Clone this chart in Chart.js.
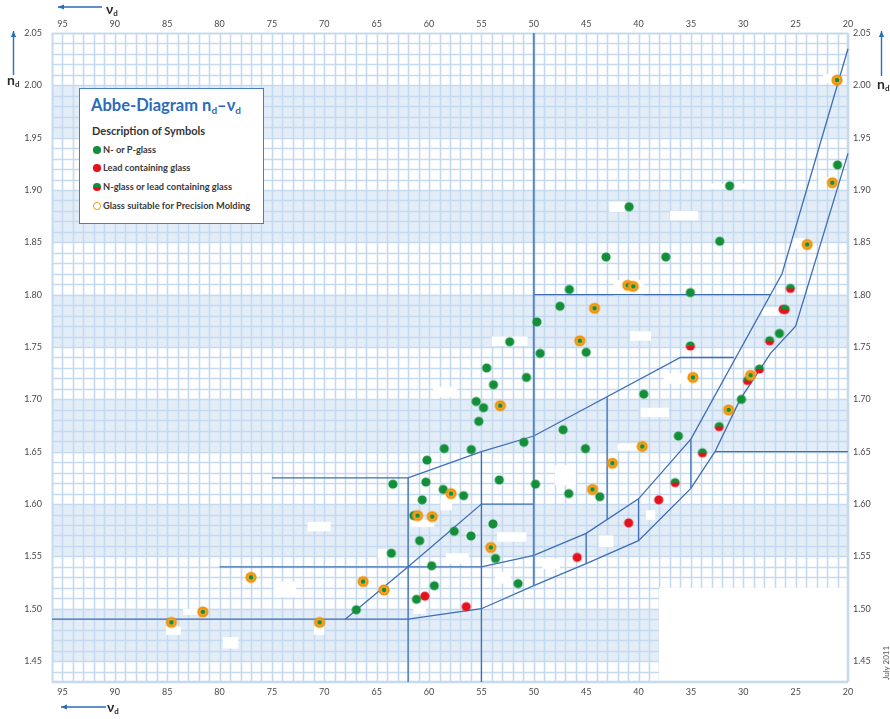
<!DOCTYPE html>
<html>
<head>
<meta charset="utf-8">
<title>Abbe-Diagram nd–νd</title>
<script src="https://cdn.jsdelivr.net/npm/chart.js@4.4.1/dist/chart.umd.min.js"></script>
<style>
  html, body { margin: 0; padding: 0; background: #fff; }
  #wrap { position: relative; width: 890px; height: 719px; font-family: Lato, "Open Sans", sans-serif; }
  #c { position: absolute; left: 0; top: 0; }
  .abs { position: absolute; white-space: nowrap; }
  .axt { font-weight: 700; color: #2a2a2a; font-size: 14px; line-height: 14px; }
  .axt sub { font-size: 8px; vertical-align: -2px; }
  #key { position: absolute; left: 79px; top: 88px; width: 185px; height: 136px; box-sizing: border-box;
         border: 1.5px solid #4a7cc2; background: #fff; }
  #key .ttl { left: 11px; top: 6px; font-size: 16.5px; line-height: 20px; font-weight: 700; color: #2c6cb8; }
  #key .ttl sub { font-size: 10px; vertical-align: -3px; }
  #key .sub { left: 12px; top: 35px; font-size: 11px; line-height: 14px; font-weight: 700; color: #333; }
  #key .item { left: 23px; font-size: 9.3px; line-height: 12px; font-weight: 700; color: #3a3a3a; }
  #key .mk { position: absolute; left: 13px; width: 7.5px; height: 7.5px; border-radius: 50%; box-sizing: border-box; }
  #stamp { position: absolute; left: 868px; top: 658px; width: 36px; font-size: 8px; line-height: 10px; color: #555;
           transform: rotate(-90deg); transform-origin: center; text-align: center; }
</style>
</head>
<body>
<div id="wrap">
  <canvas id="c" width="890" height="719"></canvas>

  <div class="abs axt" style="left:106px; top:2px;">ν<sub>d</sub></div>
  <div class="abs axt" style="left:107px; top:700px;">ν<sub>d</sub></div>
  <div class="abs axt" style="left:7px; top:73px;">n<sub>d</sub></div>
  <div class="abs axt" style="left:877px; top:77px;">n<sub>d</sub></div>

  <div id="key">
    <div class="abs ttl">Abbe-Diagram n<sub>d</sub>–ν<sub>d</sub></div>
    <div class="abs sub">Description of Symbols</div>
    <span class="mk" style="top:57px; background:#138f3a;"></span>
    <div class="abs item" style="top:55px;">N- or P-glass</div>
    <span class="mk" style="top:75px; background:#e5121c;"></span>
    <div class="abs item" style="top:73px;">Lead containing glass</div>
    <span class="mk" style="top:94px; background:linear-gradient(#138f3a 0 50%, #e5121c 50% 100%);"></span>
    <div class="abs item" style="top:92px;">N-glass or lead containing glass</div>
    <span class="mk" style="top:113px; border:1.7px solid #f39200; background:#fff;"></span>
    <div class="abs item" style="top:111px;">Glass suitable for Precision Molding</div>
  </div>

  <div id="stamp">July 2011</div>
</div>

<script>
// ---- axis ticks -------------------------------------------------------
const nuTicks = [95, 90, 85, 80, 75, 70, 65, 60, 55, 50, 45, 40, 35, 30, 25, 20];
const ndTicks = [2.05, 2.00, 1.95, 1.90, 1.85, 1.80, 1.75, 1.70, 1.65, 1.60, 1.55, 1.50, 1.45];

// ---- glass types [νd, nd] ------------------------------------------------
const nOrPGlass = [
  [21.0, 1.924], [31.3, 1.904], [32.25, 1.851], [40.9, 1.884], [43.1, 1.836], [37.4, 1.836],
  [35.05, 1.802], [46.6, 1.805], [47.5, 1.789], [49.7, 1.774], [52.3, 1.755], [49.4, 1.744],
  [45.0, 1.745], [54.5, 1.730], [50.7, 1.721], [53.85, 1.714], [55.5, 1.698], [54.8, 1.692],
  [55.25, 1.679], [39.5, 1.705], [47.2, 1.671], [50.95, 1.659], [58.55, 1.653], [55.97, 1.652],
  [45.07, 1.653], [60.2, 1.642], [36.2, 1.665], [63.45, 1.619], [60.3, 1.621], [58.65, 1.614],
  [56.7, 1.608], [60.65, 1.604], [61.45, 1.589], [57.6, 1.574], [56.0, 1.5695], [60.9, 1.565],
  [63.6, 1.553], [59.75, 1.541], [59.5, 1.522], [61.2, 1.509], [66.95, 1.499], [53.3, 1.623],
  [49.84, 1.619], [46.66, 1.610], [43.7, 1.607], [53.9, 1.581], [53.65, 1.548], [51.5, 1.524],
  [26.55, 1.763], [30.18, 1.700]
];
const leadGlass = [
  [60.4, 1.512], [56.45, 1.502], [45.86, 1.549], [40.94, 1.582], [38.07, 1.604], [26.2, 1.786]
];
const nOrLeadGlass = [
  [36.5, 1.6205], [33.9, 1.649], [32.3, 1.674], [35.05, 1.751], [29.6, 1.718], [28.46, 1.729],
  [27.48, 1.756], [26.0, 1.786], [25.5, 1.806]
];
const moldingGlass = [
  [21.05, 2.005], [21.5, 1.907], [23.9, 1.848], [41.03, 1.809], [40.5, 1.808], [44.2, 1.787],
  [45.6, 1.756], [53.2, 1.694], [34.8, 1.721], [29.3, 1.723], [31.4, 1.690], [39.65, 1.655],
  [42.5, 1.639], [44.4, 1.614], [54.1, 1.5585], [57.9, 1.610], [61.1, 1.589], [59.7, 1.588],
  [66.3, 1.526], [64.3, 1.518], [77.0, 1.530], [81.6, 1.497], [70.45, 1.487], [84.6, 1.487]
];

// ---- glass-family boundaries [νd, nd] ------------------------------------
const nu50Line   = [[50, 2.05], [50, 1.522]];
const nd180Line  = [[50, 1.80], [27.4, 1.80]];
const upperCurve = [[80, 1.54], [55, 1.54], [50, 1.551], [45, 1.572], [40, 1.605], [35, 1.662], [26.3, 1.82], [20, 2.035]];
const lowerCurve = [[96, 1.49], [62, 1.49], [55, 1.50], [50, 1.522], [45, 1.543], [40, 1.565], [35, 1.615],
                    [32.7, 1.65], [30.3, 1.70], [27.4, 1.744], [25, 1.77], [20, 1.935]];
const crownDiag  = [[68, 1.49], [62, 1.54], [55, 1.60], [50, 1.60]];
const flintLine  = [[75, 1.625], [62, 1.625], [55, 1.65], [50, 1.665], [36, 1.74], [30.9, 1.74]];
const nd165Line  = [[32.7, 1.65], [20, 1.65]];
const nu62Line   = [[62, 1.625], [62, 1.43]];
const nu55Line   = [[55, 1.65], [55, 1.43]];
const nu45Line   = [[45, 1.543], [45, 1.572]];
const nu43Line   = [[43, 1.585], [43, 1.702]];
const nu40Line   = [[40, 1.565], [40, 1.605]];
const nu35Line   = [[35, 1.615], [35, 1.662]];

// shaded nd bands and blank plates [ν from, ν to, nd top, nd bottom]
const shadedBands = [[1.45, 1.50], [1.55, 1.60], [1.65, 1.70], [1.75, 1.80], [1.85, 1.90], [1.95, 2.00]];
const blankCorner = [38.05, 20, 1.52, 1.43];
const blankPlates = [
  [37.0, 34.3, 1.880, 1.871], [42.8, 41.3, 1.889, 1.879], [33.2, 29.2, 1.906, 1.901], [25.3, 24.1, 1.854, 1.844],
  [22.8, 21.7, 1.912, 1.904], [22.4, 21.2, 2.011, 2.002], [54.0, 50.6, 1.760, 1.751], [59.6, 57.3, 1.712, 1.702],
  [40.8, 38.8, 1.765, 1.756], [39.8, 37.1, 1.692, 1.683], [42.4, 39.5, 1.814, 1.799], [71.6, 69.4, 1.583, 1.574],
  [74.8, 72.7, 1.526, 1.511], [79.7, 78.2, 1.473, 1.462], [58.4, 56.2, 1.553, 1.543], [61.5, 60.3, 1.505, 1.495],
  [71.0, 70.0, 1.483, 1.475], [83.5, 82.1, 1.500, 1.494], [85.1, 83.7, 1.483, 1.475], [53.5, 50.7, 1.573, 1.564],
  [43.8, 42.4, 1.570, 1.559], [49.2, 47.5, 1.548, 1.538], [42.0, 39.8, 1.658, 1.651], [39.3, 38.4, 1.594, 1.585],
  [64.9, 64.0, 1.557, 1.549], [58.9, 57.8, 1.607, 1.594], [61.8, 59.5, 1.585, 1.578], [48.0, 46.0, 1.637, 1.618],
  [53.7, 52.2, 1.535, 1.524], [28.2, 26.5, 1.788, 1.780], [37.6, 35.4, 1.725, 1.715]
];

// ---- marker images ---------------------------------------------------------
const GREEN = '#138f3a', RED = '#e5121c', ORANGE = '#f39200', LINE = '#3e6eb6';

function marker(kind) {
  const s = 14, m = s / 2, c = document.createElement('canvas');
  c.width = c.height = s;
  const g = c.getContext('2d');
  const disc = (r, col, a0 = 0, a1 = Math.PI * 2) => {
    g.beginPath(); g.moveTo(m, m); g.arc(m, m, r, a0, a1); g.closePath(); g.fillStyle = col; g.fill();
  };
  if (kind === 'green') disc(4.6, GREEN);
  if (kind === 'red') disc(4.6, RED);
  if (kind === 'half') { disc(4.6, GREEN, Math.PI, 0); disc(4.6, RED, 0, Math.PI); }
  if (kind === 'mold') { disc(5.6, ORANGE); disc(3.6, '#f6a93a'); disc(2.3, GREEN); }
  return c;
}

const pts = arr => arr.map(([x, y]) => ({ x, y }));

function pointSet(label, arr, kind) {
  return { label, data: pts(arr), pointStyle: marker(kind), pointRadius: 5, order: 0 };
}
function boundary(arr, width = 1.3, color = LINE) {
  return { data: pts(arr), showLine: true, borderColor: color, borderWidth: width, pointRadius: 0,
           tension: 0, fill: false, order: 10 };
}

// ---- paper background: bands, fine grid, blank plates, frame --------------
const paper = {
  id: 'paper',
  beforeDatasetsDraw(chart) {
    const { ctx, chartArea: a, scales: { x, y } } = chart;
    ctx.save();
    ctx.fillStyle = '#e3edf7';
    shadedBands.forEach(([lo, hi]) => {
      const t = y.getPixelForValue(hi), b = y.getPixelForValue(lo);
      ctx.fillRect(a.left, t, a.width, b - t);
    });
    ctx.strokeStyle = '#c5daee';
    ctx.lineWidth = 1.6;
    ctx.beginPath();
    for (let v = x.min; v <= x.max; v++) {
      const px = Math.round(x.getPixelForValue(v)) + 0.5;
      ctx.moveTo(px, a.top); ctx.lineTo(px, a.bottom);
    }
    for (let k = Math.round(y.min * 100); k <= Math.round(y.max * 100); k++) {
      const py = Math.round(y.getPixelForValue(k / 100)) + 0.5;
      ctx.moveTo(a.left, py); ctx.lineTo(a.right, py);
    }
    ctx.stroke();
    const plate = ([n1, n2, d1, d2]) => {
      const l = x.getPixelForValue(n1), r = x.getPixelForValue(n2);
      const t = y.getPixelForValue(d1), b = y.getPixelForValue(d2);
      ctx.fillRect(l, t, r - l, b - t);
    };
    ctx.fillStyle = '#ffffff';
    plate(blankCorner);
    blankPlates.forEach(plate);
    ctx.strokeStyle = '#c5daee';
    ctx.lineWidth = 1.6;
    ctx.strokeRect(a.left + 0.5, a.top + 0.5, a.width - 1, a.height - 1);
    ctx.restore();
  },
  afterDraw(chart) {
    // direction arrows beside the axis titles
    const { ctx } = chart;
    ctx.save();
    ctx.strokeStyle = '#2a6ebb';
    ctx.fillStyle = '#2a6ebb';
    ctx.lineWidth = 1.4;
    const arrow = (x1, y1, x2, y2) => {
      ctx.beginPath(); ctx.moveTo(x1, y1); ctx.lineTo(x2, y2); ctx.stroke();
      const ang = Math.atan2(y2 - y1, x2 - x1), L = 6, W = 2.6;
      ctx.beginPath();
      ctx.moveTo(x2, y2);
      ctx.lineTo(x2 - L * Math.cos(ang) + W * Math.sin(ang), y2 - L * Math.sin(ang) - W * Math.cos(ang));
      ctx.lineTo(x2 - L * Math.cos(ang) - W * Math.sin(ang), y2 - L * Math.sin(ang) + W * Math.cos(ang));
      ctx.closePath(); ctx.fill();
    };
    arrow(102, 7, 58, 7);
    arrow(106, 707, 61, 707);
    arrow(13.5, 75, 13.5, 31);
    arrow(881.5, 76, 881.5, 31);
    ctx.restore();
  }
};

const tickFont = { family: 'Lato', size: 9 };
const tickColor = '#4a4a4a';
const nuAxis = (position, height, pad) => ({
  type: 'linear', position, min: 20, max: 96, reverse: true,
  grid: { display: false, drawTicks: false }, border: { display: false },
  ticks: { font: tickFont, color: tickColor, padding: pad, maxRotation: 0, autoSkip: false, callback: v => String(v) },
  afterBuildTicks: s => { s.ticks = nuTicks.map(value => ({ value })); },
  afterFit: s => { s.height = height; }
});
const ndAxis = (position, width, pad) => ({
  type: 'linear', position, min: 1.43, max: 2.05,
  grid: { display: false, drawTicks: false }, border: { display: false },
  ticks: { font: tickFont, color: tickColor, padding: pad, autoSkip: false, callback: v => v.toFixed(2) },
  afterBuildTicks: s => { s.ticks = ndTicks.map(value => ({ value })); },
  afterFit: s => { s.width = width; }
});

new Chart(document.getElementById('c'), {
  type: 'scatter',
  data: {
    datasets: [
      pointSet('Glass suitable for Precision Molding', moldingGlass, 'mold'),
      pointSet('N-glass or lead containing glass', nOrLeadGlass, 'half'),
      pointSet('Lead containing glass', leadGlass, 'red'),
      pointSet('N- or P-glass', nOrPGlass, 'green'),
      boundary(nu50Line, 2, '#5a86c6'),
      boundary(nd180Line),
      boundary(upperCurve),
      boundary(lowerCurve),
      boundary(crownDiag),
      boundary(flintLine),
      boundary(nd165Line),
      boundary(nu62Line),
      boundary(nu55Line),
      boundary(nu45Line),
      boundary(nu43Line),
      boundary(nu40Line),
      boundary(nu35Line)
    ]
  },
  options: {
    responsive: false,
    animation: false,
    devicePixelRatio: 1,
    events: [],
    layout: { padding: 0 },
    clip: false,
    plugins: { legend: { display: false }, tooltip: { enabled: false } },
    scales: {
      x: nuAxis('bottom', 37, 5),
      x2: nuAxis('top', 33, 4),
      y: ndAxis('left', 52, 10),
      y2: ndAxis('right', 42, 5)
    }
  },
  plugins: [paper]
});
</script>
</body>
</html>
